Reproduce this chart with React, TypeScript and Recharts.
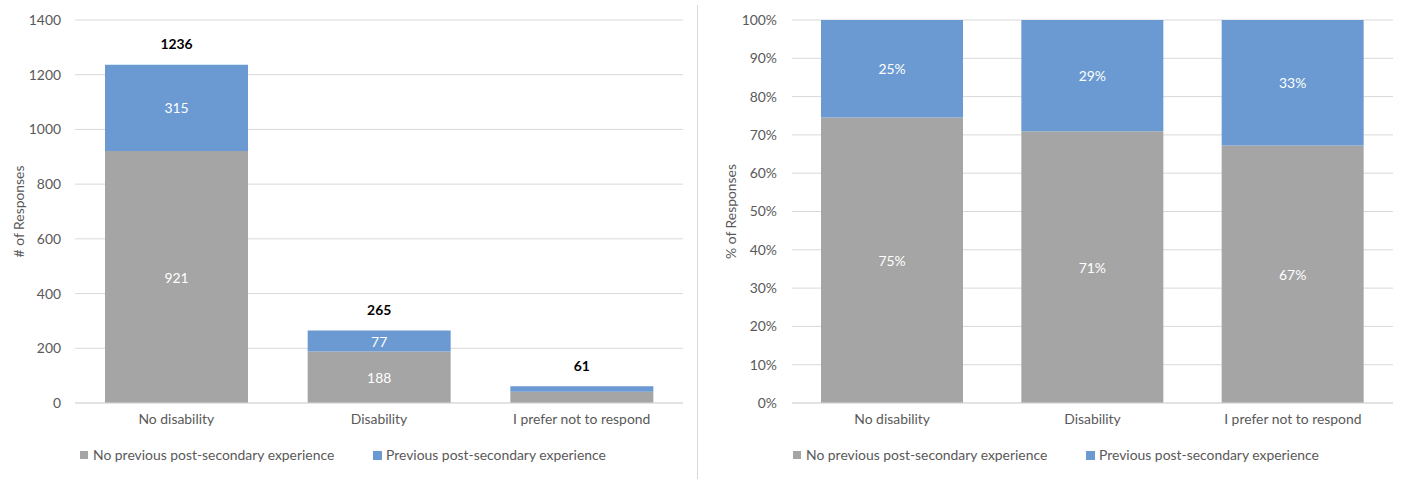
import React from "react";
import { BarChart, Bar, XAxis, YAxis, CartesianGrid, LabelList, Legend } from "recharts";

const categories = ["No disability", "Disability", "I prefer not to respond"];
const noPrevious = [921, 188, 41];
const previous = [315, 77, 20];
const totals = [1236, 265, 61];
const countTicks = [0, 200, 400, 600, 800, 1000, 1200, 1400];
const pctTicks = [0, 10, 20, 30, 40, 50, 60, 70, 80, 90, 100];
const showInside = [true, true, false];

const GREY = "#A5A5A5";
const BLUE = "#6A9AD1";
const GRID = "#D9D9D9";
const TICK = "#595959";
const FONT = "Lato, 'Open Sans', sans-serif";
const FS = 13.9;

const countData = categories.map((c, i) => ({
  name: c,
  noPrev: noPrevious[i],
  prev: previous[i],
  total: totals[i],
}));

const pctData = categories.map((c, i) => {
  const t = noPrevious[i] + previous[i];
  return {
    name: c,
    noPrev: (noPrevious[i] / t) * 100,
    prev: (previous[i] / t) * 100,
  };
});

const insideLabel = (fmt: (v: number) => string, idxShow: boolean[] | null) => (props: any) => {
  const { x, y, width, height, value, index } = props;
  if (idxShow && !idxShow[index]) return null;
  return (
    <text
      x={x + width / 2}
      y={y + height / 2}
      textAnchor="middle"
      dominantBaseline="central"
      fill="#FFFFFF"
      fontSize={FS}
      fontFamily={FONT}
    >
      {fmt(value)}
    </text>
  );
};

const totalLabel = (props: any) => {
  const { x, y, width, index } = props;
  return (
    <text
      x={x + width / 2}
      y={y - 21}
      textAnchor="middle"
      dominantBaseline="central"
      fill="#000000"
      fontSize={FS}
      fontWeight="bold"
      fontFamily={FONT}
    >
      {totals[index]}
    </text>
  );
};

const makeLegend = (greyX: number, blueX: number) => () => (
  <div style={{ position: "relative", height: 20, fontFamily: FONT, fontSize: FS, color: TICK }}>
    <div style={{ position: "absolute", left: greyX, top: 6, width: 8, height: 8, background: GREY }} />
    <div style={{ position: "absolute", left: greyX + 13, top: 0, lineHeight: "20px", whiteSpace: "nowrap" }}>
      No previous post-secondary experience
    </div>
    <div style={{ position: "absolute", left: blueX, top: 6, width: 9, height: 9, background: BLUE }} />
    <div style={{ position: "absolute", left: blueX + 13, top: 0, lineHeight: "20px", whiteSpace: "nowrap" }}>
      Previous post-secondary experience
    </div>
  </div>
);

const yLabel = (text: string, cx: number) => (props: any) => {
  const { viewBox } = props;
  const cy = viewBox.y + viewBox.height / 2;
  return (
    <text
      x={cx}
      y={cy}
      transform={`rotate(-90, ${cx}, ${cy})`}
      textAnchor="middle"
      dominantBaseline="central"
      fill={TICK}
      fontSize={FS}
      fontFamily={FONT}
    >
      {text}
    </text>
  );
};

export default function App() {
  const tickStyle = { fill: TICK, fontSize: FS, fontFamily: FONT };
  return (
    <div style={{ position: "absolute", left: 0, top: 0, width: 1405, height: 479, background: "#fff" }}>
      <div style={{ position: "absolute", left: 0, top: 0 }}>
        <BarChart
          width={697}
          height={479}
          data={countData}
          margin={{ top: 20, right: 14, left: 0, bottom: 0 }}
        >
          <CartesianGrid vertical={false} stroke={GRID} />
          <XAxis
            dataKey="name"
            axisLine={{ stroke: GRID }}
            tickLine={false}
            tick={tickStyle}
            tickMargin={5}
            height={56}
          />
          <YAxis
            width={75}
            domain={[0, 1400]}
            ticks={countTicks}
            axisLine={false}
            tickLine={false}
            tick={tickStyle}
            tickMargin={8}
            label={yLabel("# of Responses", 18)}
          />
          <Legend
            content={makeLegend(80, 373)}
            wrapperStyle={{ left: 0, top: 445, width: 697, bottom: "auto" }}
          />
          <Bar dataKey="noPrev" stackId="a" fill={GREY} barSize={143} isAnimationActive={false}>
            <LabelList dataKey="noPrev" content={insideLabel((v) => String(v), showInside)} />
          </Bar>
          <Bar dataKey="prev" stackId="a" fill={BLUE} barSize={143} isAnimationActive={false}>
            <LabelList dataKey="prev" content={insideLabel((v) => String(v), showInside)} />
            <LabelList dataKey="total" content={totalLabel} />
          </Bar>
        </BarChart>
      </div>
      <div style={{ position: "absolute", left: 697, top: 5, width: 1, height: 474, background: GRID }} />
      <div style={{ position: "absolute", left: 697, top: 0 }}>
        <BarChart
          width={708}
          height={479}
          data={pctData}
          margin={{ top: 20, right: 12, left: 0, bottom: 0 }}
        >
          <CartesianGrid vertical={false} stroke={GRID} />
          <XAxis
            dataKey="name"
            axisLine={{ stroke: GRID }}
            tickLine={false}
            tick={tickStyle}
            tickMargin={5}
            height={56}
          />
          <YAxis
            width={95}
            domain={[0, 100]}
            ticks={pctTicks}
            axisLine={false}
            tickLine={false}
            tick={tickStyle}
            tickMargin={9}
            tickFormatter={(v: number) => `${v}%`}
            label={yLabel("% of Responses", 33)}
          />
          <Legend
            content={makeLegend(96, 389)}
            wrapperStyle={{ left: 0, top: 445, width: 708, bottom: "auto" }}
          />
          <Bar dataKey="noPrev" stackId="a" fill={GREY} barSize={142} isAnimationActive={false}>
            <LabelList dataKey="noPrev" content={insideLabel((v) => `${Math.round(v)}%`, null)} />
          </Bar>
          <Bar dataKey="prev" stackId="a" fill={BLUE} barSize={142} isAnimationActive={false}>
            <LabelList dataKey="prev" content={insideLabel((v) => `${Math.round(v)}%`, null)} />
          </Bar>
        </BarChart>
      </div>
    </div>
  );
}
